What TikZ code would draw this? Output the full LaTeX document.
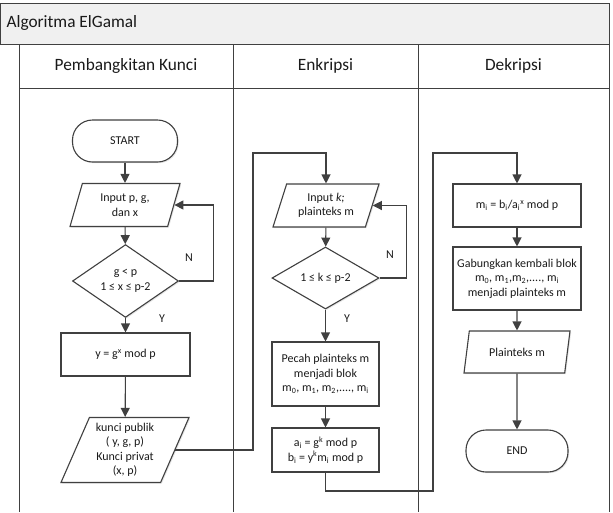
\documentclass[tikz,border=0pt]{standalone}
\usepackage{fontspec}
\setmainfont{Carlito}
\usetikzlibrary{shapes.geometric,arrows.meta,shadows,calc}
\definecolor{ln}{HTML}{404040}
\definecolor{tx}{HTML}{1A1A1A}
\begin{document}
\begin{tikzpicture}[x=1pt,y=-1pt,
  every node/.style={text=tx},
  shd/.style={drop shadow={shadow xshift=1.2pt,shadow yshift=-1.2pt,fill=black!12,opacity=0.8}},
  base/.style={draw=ln,line width=1.1pt,fill=white,shd,font=\fontsize{12}{14.5}\selectfont,align=center,inner sep=1pt},
  term/.style={base,rectangle,rounded corners=20pt,minimum width=105pt,minimum height=42pt},
  proc/.style={base,rectangle,minimum width=107pt,minimum height=43pt},
  io/.style={base,trapezium,trapezium left angle=63,trapezium right angle=117,trapezium stretches body,minimum width=110pt,minimum height=43pt},
  dec/.style={base,diamond,minimum width=106pt,minimum height=62pt,inner sep=0pt},
  arr/.style={draw=ln,line width=1.1pt,-{Triangle[length=9pt,width=9pt]}},
  lane/.style={draw=ln,line width=1pt},
  lbl/.style={font=\fontsize{12}{13}\selectfont},
  hdr/.style={font=\fontsize{17.3}{19}\selectfont}
]
\useasboundingbox (0,0) rectangle (613,512);
% frame
\fill[black!6] (0.5,3) rectangle (609,44);
\draw[lane] (0.5,3) rectangle (609,44);
\draw[lane] (19,44) -- (19,512);
\draw[lane] (233,44) -- (233,512);
\draw[lane] (418,44) -- (418,512);
\draw[lane] (609,44) -- (609,512);
\draw[lane] (19,88) -- (609,88);
\node[anchor=west,hdr] (title) at (3,23) {Algoritma ElGamal};
\node[hdr] (h1) at (126,66) {Pembangkitan Kunci};
\node[hdr] (h2) at (325.5,66) {Enkripsi};
\node[hdr] (h3) at (513.5,66) {Dekripsi};

% lane 1
\node[term] (start) at (125,141) {START};
\node[io] (in1) at (125,205) {Input p, g,\\ dan x};
\node[dec] (d1) at (125.5,281) {g < p\\ 1 ≤ x ≤ p-2};
\node[proc,minimum width=129pt] (y) at (125.5,354.5) {y = g\textsuperscript{x} mod p};
\node[io,minimum height=65pt,minimum width=128pt] (kp) at (125,450) {kunci publik\\ ( y, g, p)\\ Kunci privat\\ (x, p)};

% lane 2
\node[io,minimum width=106pt] (in2) at (326,205.5) {Input \textit{k;}\\ plainteks m};
\node[dec,minimum width=107pt] (d2) at (325.5,278) {1 ≤ k ≤ p-2};
\node[proc,minimum height=64pt] (pc) at (325.5,374) {Pecah plainteks m\\ menjadi blok\\ m\textsubscript{0}, m\textsubscript{1}, m\textsubscript{2},...., m\textsubscript{i}};
\node[proc,minimum height=44pt] (ab) at (325.5,450) {a\textsubscript{i} = g\textsuperscript{k} mod p\\ b\textsubscript{i} = y\textsuperscript{k}m\textsubscript{i} mod p};

% lane 3
\node[proc,minimum width=128pt] (mi) at (517,205.5) {m\textsubscript{i} = b\textsubscript{i}/a\textsubscript{i}\textsuperscript{x} mod p};
\node[proc,minimum width=128pt,minimum height=63pt] (gb) at (517,278.5) {Gabungkan kembali blok\\ m\textsubscript{0}, m\textsubscript{1},m\textsubscript{2},...., m\textsubscript{i}\\ menjadi plainteks m};
\node[io,minimum width=106pt,minimum height=42pt] (pm) at (517,352) {Plainteks m};
\node[term,minimum width=102pt] (end) at (517,451) {END};

% connectors
\coordinate (c1) at (253,153);
\coordinate (c3) at (433,491);
\coordinate (c4) at (433,153);
\draw[arr] (start) -- (in1);
\draw[arr] (in1) -- (d1);
\draw[arr] (d1.east) -- ++(34,0) |- (in1.east);
\node[lbl] (n1) at (189,258) {N};
\draw[arr] (d1.south) -- (y);
\node[lbl] (y1) at (162,319) {Y};
\draw[arr] (y) -- (kp);
\draw[arr] (kp.east) -| (c1) -| (in2.north);
\draw[arr] (in2) -- (d2);
\draw[arr] (d2.east) -- ++(27,0) |- (in2.east);
\node[lbl] (n2) at (390,255) {N};
\draw[arr] (d2.south) -- (pc);
\node[lbl] (y2) at (347,319) {Y};
\draw[arr] (pc) -- (ab);
\draw[arr] (ab.south) |- (c3) -- (c4) -| (mi.north);
\draw[arr] (mi) -- (gb);
\draw[arr] (gb) -- (pm);
\draw[arr] (pm) -- (end);
\end{tikzpicture}
\end{document}
